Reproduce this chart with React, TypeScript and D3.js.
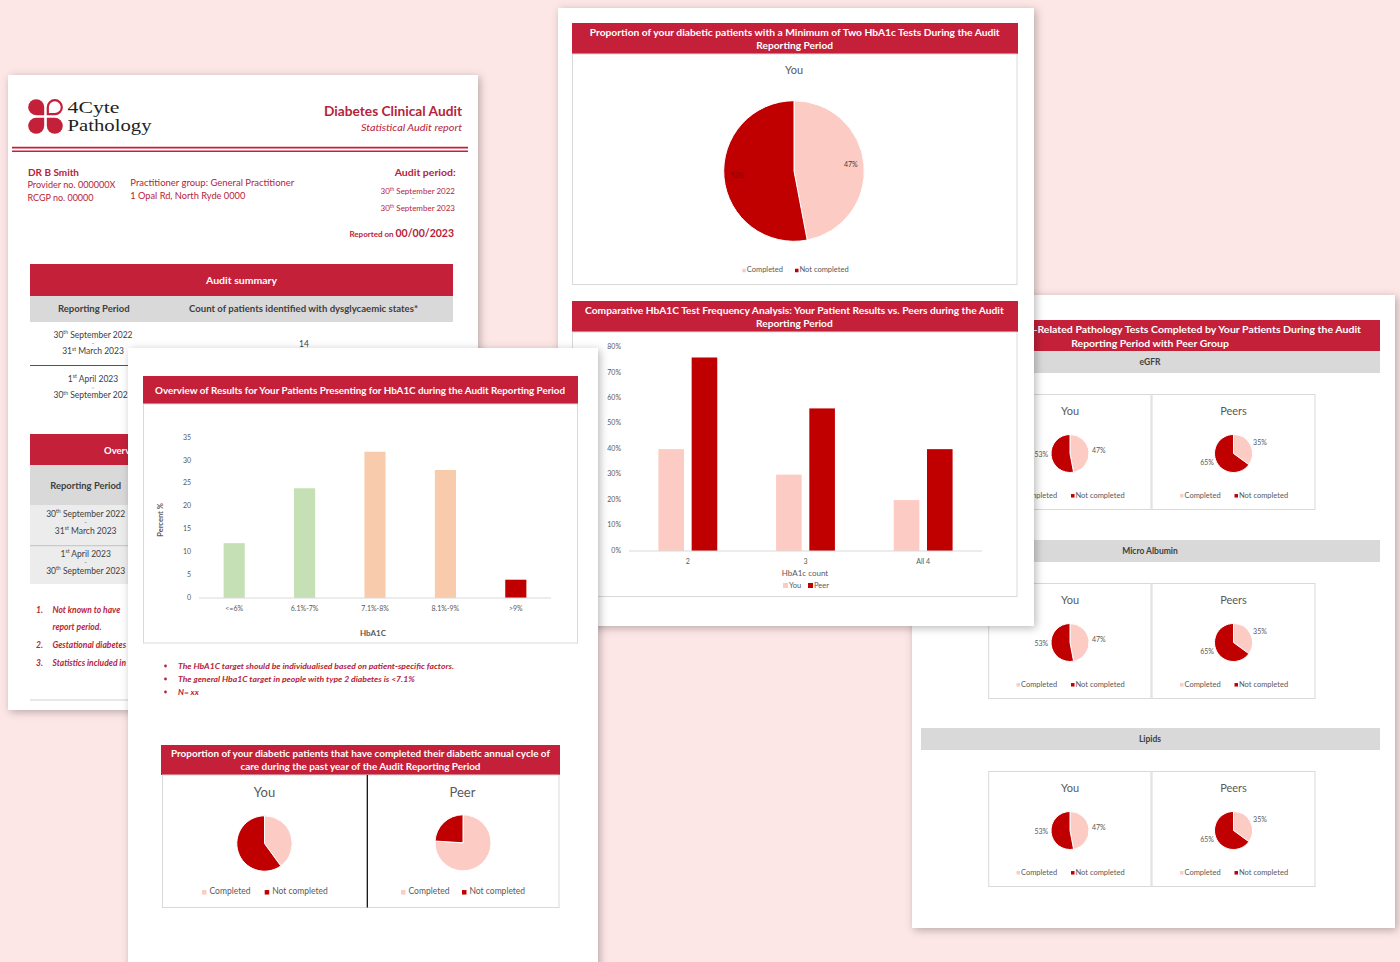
import React from "react";
import * as d3 from "d3";

const FONT = "Lato, 'Open Sans', sans-serif";
const BAND_RED = "#c4203a";
const TEXT_RED = "#b72339";
const DARK_RED = "#c00000";
const PINK = "#fccbc3";
const GREY_TXT = "#595959";
const BODY_TXT = "#404040";

// ---------- DATA ----------
const hba1cCategories = ["<=6%", "6.1%-7%", "7.1%-8%", "8.1%-9%", ">9%"];
const hba1cPercent = [12, 24, 32, 28, 4];
const hba1cTicks = [0, 5, 10, 15, 20, 25, 30, 35];
const hba1cColors = ["#c5e0b4", "#c5e0b4", "#f8cbad", "#f8cbad", "#c00000"];

const freqCategories = ["2", "3", "All 4"];
const freqSeries = ["You", "Peer"];
const freqYou = [0.4, 0.3, 0.2];
const freqPeer = [0.76, 0.56, 0.4];
const freqTicks = [0, 0.1, 0.2, 0.3, 0.4, 0.5, 0.6, 0.7, 0.8];

const pieCategories = ["Completed", "Not completed"];
const minTwoTestsYou = [47, 53];
const annualCycleYou = [40, 60];
const annualCyclePeer = [76, 24];
const egfrYou = [47, 53];
const egfrPeers = [35, 65];
const microAlbuminYou = [47, 53];
const microAlbuminPeers = [35, 65];
const lipidsYou = [47, 53];
const lipidsPeers = [35, 65];
const pathologySections = ["eGFR", "Micro Albumin", "Lipids"];

const auditPeriod = ["30th September 2022", "30th September 2023"];
const reportingPeriods = [
  ["30th September 2022", "31st March 2023"],
  ["1st April 2023", "30th September 2023"],
];
const dysglycaemicCounts = [14];
const hba1cNotes = [
  "The HbA1C target should be individualised based on patient-specific factors.",
  "The general Hba1C target in people with type 2 diabetes is <7.1%",
  "N= xx",
];
const summaryNotes = ["Not known to have", "report period.", "Gestational diabetes", "Statistics included in"];

// ---------- helpers ----------
function T(props: any) {
  const { x, y, w, size, anchor = "start", fill = BODY_TXT, weight = "normal", italic = false, children, baseline } = props;
  return (
    <text
      x={x}
      y={y}
      fontSize={size}
      textAnchor={anchor}
      fill={fill}
      fontWeight={weight}
      fontStyle={italic ? "italic" : "normal"}
      textLength={w}
      lengthAdjust={w ? "spacingAndGlyphs" : undefined}
      dominantBaseline={baseline}
    >
      {children}
    </text>
  );
}

function Ord(props: any) {
  const { x, y, text, size, anchor = "start", fill = BODY_TXT, weight = "normal" } = props;
  const m = text.match(/^(\d+)(st|nd|rd|th)(.*)$/);
  return (
    <text x={x} y={y} fontSize={size} textAnchor={anchor} fill={fill} fontWeight={weight}>
      {m ? (
        <>
          <tspan>{m[1]}</tspan>
          <tspan fontSize={size * 0.6} dy={-size * 0.38}>{m[2]}</tspan>
          <tspan dy={size * 0.38}>{m[3]}</tspan>
        </>
      ) : (
        text
      )}
    </text>
  );
}

function lobePath(ix: number, iy: number, sx: number, sy: number, s: number) {
  const h = s / 2;
  const sw = sx * sy > 0 ? 1 : 0;
  return `M${ix},${iy} L${ix + sx * h},${iy} A${h},${h} 0 0 ${sw} ${ix + sx * s},${iy + sy * h} A${h},${h} 0 0 ${sw} ${ix + sx * h},${iy + sy * s} A${h},${h} 0 0 ${sw} ${ix},${iy + sy * h} Z`;
}

function Logo() {
  const cx = 45.5, cy = 116.5, g = 1.3, s = 16;
  const serif = "'Liberation Serif', 'DejaVu Serif', serif";
  return (
    <g>
      <path d={lobePath(cx - g, cy - g, -1, -1, s)} fill={BAND_RED} />
      <path d={lobePath(cx + g + 1, cy - g - 1, 1, -1, s - 2)} fill="#fff" stroke={BAND_RED} strokeWidth={2.2} />
      <path d={lobePath(cx - g, cy + g, -1, 1, s)} fill={BAND_RED} />
      <path d={lobePath(cx + g, cy + g, 1, 1, s)} fill={BAND_RED} />
      <text x={67.5} y={112.5} fontFamily={serif} fontSize={16.5} fill="#231f20" textLength={52} lengthAdjust="spacingAndGlyphs">4Cyte</text>
      <text x={67.5} y={130.5} fontFamily={serif} fontSize={16.5} fill="#231f20" textLength={84} lengthAdjust="spacingAndGlyphs">Pathology</text>
    </g>
  );
}

function Pie(props: any) {
  const { cx, cy, r, values, labels = "none", labelR = 0, fontSize = 7 } = props;
  const arcs = d3.pie<number>().sort(null)(values);
  const arc = d3.arc<any>().innerRadius(0).outerRadius(r);
  const colors = [PINK, DARK_RED];
  return (
    <g transform={`translate(${cx},${cy})`}>
      {arcs.map((a, i) => (
        <path key={i} d={arc(a) as string} fill={colors[i]} stroke="#fff" strokeWidth={1} />
      ))}
      {labels !== "none" &&
        arcs.map((a, i) => {
          const mid = (a.startAngle + a.endAngle) / 2;
          const px = Math.sin(mid) * labelR;
          const py = -Math.cos(mid) * labelR;
          const anchor = labels === "inside" ? "middle" : px >= 0 ? "start" : "end";
          const fill = labels === "inside" ? (i === 0 ? BODY_TXT : "#8a0000") : GREY_TXT;
          return (
            <text key={"l" + i} x={px} y={py} fontSize={fontSize} textAnchor={anchor} dominantBaseline="middle" fill={fill}>
              {`${values[i]}%`}
            </text>
          );
        })}
    </g>
  );
}

function Legend(props: any) {
  const { xs, y, size, gap, fontSize, labels } = props;
  const colors = [PINK, DARK_RED];
  return (
    <g>
      {labels.map((l: string, i: number) => (
        <g key={l}>
          <rect x={xs[i]} y={y - size / 2} width={size} height={size} fill={colors[i]} />
          <text x={xs[i] + size + gap} y={y} dominantBaseline="middle" fontSize={fontSize} fill={GREY_TXT}>{l}</text>
        </g>
      ))}
    </g>
  );
}

function Dash(props: any) {
  return <line x1={props.x - 1.2} x2={props.x + 1.2} y1={props.y} y2={props.y} stroke="#9a9a9a" strokeWidth={0.6} />;
}

// ---------- Page A: summary page ----------
function PageA() {
  return (
    <g>
      <rect x={8} y={75} width={470} height={635} fill="#fff" filter="url(#sh)" />
      <Logo />
      <T x={462} y={116} anchor="end" size={14} weight="bold" fill={TEXT_RED} w={138}>Diabetes Clinical Audit</T>
      <T x={462} y={131} anchor="end" size={10} italic fill={TEXT_RED} w={101}>Statistical Audit report</T>
      <line x1={12} x2={468} y1={147.6} y2={147.6} stroke={BAND_RED} strokeWidth={1.6} />
      <line x1={12} x2={468} y1={151.2} y2={151.2} stroke={BAND_RED} strokeWidth={1.4} />

      <T x={28} y={176} size={10} weight="bold" fill={TEXT_RED} w={51}>DR B Smith</T>
      <T x={27.5} y={188} size={9} fill={TEXT_RED} w={88}>Provider no. 000000X</T>
      <T x={27.5} y={201} size={9} fill={TEXT_RED} w={66}>RCGP no. 00000</T>
      <T x={130.3} y={186} size={9} fill={TEXT_RED} w={164}>Practitioner group: General Practitioner</T>
      <T x={130.3} y={198.5} size={9} fill={TEXT_RED} w={115}>1 Opal Rd, North Ryde 0000</T>

      <T x={455.7} y={176} anchor="end" size={10} weight="bold" fill={TEXT_RED} w={61}>Audit period:</T>
      <Ord x={455} y={194} anchor="end" size={8} fill={TEXT_RED} text={auditPeriod[0]} />
      <Dash x={413} y={198.5} />
      <Ord x={455} y={211} anchor="end" size={8} fill={TEXT_RED} text={auditPeriod[1]} />
      <text x={454} y={237} textAnchor="end" fill={TEXT_RED} fontWeight="bold">
        <tspan fontSize={8}>Reported on </tspan>
        <tspan fontSize={10.5}>00/00/2023</tspan>
      </text>

      {/* Audit summary table */}
      <rect x={30} y={264} width={423} height={32} fill={BAND_RED} />
      <T x={241.5} y={284} anchor="middle" size={9.5} weight="bold" fill="#fff" w={71}>Audit summary</T>
      <rect x={30} y={296} width={423} height={26} fill="#d9d9d9" />
      <T x={93.8} y={311.7} anchor="middle" size={9} weight="bold" fill={BODY_TXT} w={71.7}>Reporting Period</T>
      <T x={303.5} y={311.7} anchor="middle" size={9} weight="bold" fill={BODY_TXT} w={229}>Count of patients identified with dysglycaemic states*</T>
      <Ord x={93} y={337.5} anchor="middle" size={8.5} text={reportingPeriods[0][0]} />
      <Dash x={93} y={343.5} />
      <Ord x={93} y={354} anchor="middle" size={8.5} text={reportingPeriods[0][1]} />
      <T x={304} y={346.5} anchor="middle" size={8.5}>{dysglycaemicCounts[0]}</T>
      <line x1={30} x2={453} y1={365.5} y2={365.5} stroke={BAND_RED} strokeWidth={1} />
      <Ord x={93} y={381.5} anchor="middle" size={8.5} text={reportingPeriods[1][0]} />
      <Dash x={93} y={388} />
      <Ord x={93} y={398} anchor="middle" size={8.5} text={reportingPeriods[1][1]} />

      {/* Overview table */}
      <rect x={30} y={434} width={423} height={31} fill={BAND_RED} />
      <T x={104} y={454} size={9.5} weight="bold" fill="#fff">Overview</T>
      <rect x={30} y={465} width={423} height={40} fill="#d9d9d9" />
      <T x={85.7} y={488.5} anchor="middle" size={9} weight="bold" fill={BODY_TXT} w={71}>Reporting Period</T>
      <rect x={30} y={505} width={423} height={79} fill="#ececec" />
      <Ord x={85.7} y={516.5} anchor="middle" size={8.5} text={reportingPeriods[0][0]} />
      <Dash x={85.7} y={522.5} />
      <Ord x={85.7} y={533.5} anchor="middle" size={8.5} text={reportingPeriods[0][1]} />
      <line x1={30} x2={453} y1={545.7} y2={545.7} stroke="#b8b8b8" strokeWidth={0.8} />
      <Ord x={85.7} y={556.5} anchor="middle" size={8.5} text={reportingPeriods[1][0]} />
      <Dash x={85.7} y={562.5} />
      <Ord x={85.7} y={573.5} anchor="middle" size={8.5} text={reportingPeriods[1][1]} />

      {/* notes */}
      <T x={36} y={612.7} size={8.5} weight="bold" italic fill={TEXT_RED}>1.</T>
      <T x={52.5} y={612.7} size={8.5} weight="bold" italic fill={TEXT_RED}>{summaryNotes[0]}</T>
      <T x={52.5} y={630} size={8.5} weight="bold" italic fill={TEXT_RED}>{summaryNotes[1]}</T>
      <T x={36} y={647.5} size={8.5} weight="bold" italic fill={TEXT_RED}>2.</T>
      <T x={52.5} y={647.5} size={8.5} weight="bold" italic fill={TEXT_RED}>{summaryNotes[2]}</T>
      <T x={36} y={665.5} size={8.5} weight="bold" italic fill={TEXT_RED}>3.</T>
      <T x={52.5} y={665.5} size={8.5} weight="bold" italic fill={TEXT_RED}>{summaryNotes[3]}</T>
      <line x1={30} x2={453} y1={700} y2={700} stroke="#d0d0d0" strokeWidth={1} />
    </g>
  );
}

// ---------- Page D: HbA1C overview + annual cycle ----------
function HbA1cChart() {
  const x = d3.scaleBand<string>().domain(hba1cCategories).range([199, 551]).paddingInner(0.7).paddingOuter(0.35);
  const y = d3.scaleLinear().domain([0, 35]).range([598, 438]);
  return (
    <g>
      {hba1cTicks.map((t) => (
        <text key={t} x={191} y={y(t)} textAnchor="end" dominantBaseline="middle" fontSize={7} fill={GREY_TXT}>{t}</text>
      ))}
      {hba1cCategories.map((c, i) => (
        <rect key={c} x={x(c)} y={y(hba1cPercent[i])} width={x.bandwidth()} height={y(0) - y(hba1cPercent[i])} fill={hba1cColors[i]} />
      ))}
      <line x1={199} x2={551} y1={y(0)} y2={y(0)} stroke="#d9d9d9" strokeWidth={1} />
      {hba1cCategories.map((c) => (
        <text key={"l" + c} x={(x(c) as number) + x.bandwidth() / 2} y={609.5} textAnchor="middle" dominantBaseline="middle" fontSize={7} fill={GREY_TXT}>{c}</text>
      ))}
      <text transform="translate(163,520) rotate(-90)" textAnchor="middle" fontSize={7.5} fontWeight="bold" fill={GREY_TXT}>Percent %</text>
      <text x={373} y={636} textAnchor="middle" fontSize={8} fontWeight="bold" fill={GREY_TXT}>HbA1C</text>
    </g>
  );
}

function PageD() {
  return (
    <g>
      <rect x={128} y={348} width={470} height={630} fill="#fff" filter="url(#sh)" />
      <rect x={143} y={376} width={435} height={28} fill={BAND_RED} />
      <T x={360} y={393.5} anchor="middle" size={9.5} weight="bold" fill="#fff" w={410}>Overview of Results for Your Patients Presenting for HbA1C during the Audit Reporting Period</T>
      <rect x={143.5} y={404} width={434} height={239} fill="none" stroke="#d9d9d9" strokeWidth={1} />
      <HbA1cChart />
      {hba1cNotes.map((n, i) => (
        <g key={i}>
          <circle cx={165.5} cy={666 + i * 13} r={1.4} fill={TEXT_RED} />
          <T x={178} y={668.5 + i * 13} size={7.5} weight="bold" italic fill={TEXT_RED} w={[276, 236.7, 20.7][i]}>{n}</T>
        </g>
      ))}

      <rect x={161} y={745} width={399} height={30} fill={BAND_RED} />
      <T x={360.5} y={757} anchor="middle" size={9.5} weight="bold" fill="#fff" w={379}>Proportion of your diabetic patients that have completed their diabetic annual cycle of</T>
      <T x={360.5} y={770} anchor="middle" size={9.5} weight="bold" fill="#fff" w={240}>care during the past year of the Audit Reporting Period</T>
      <rect x={162.5} y={775} width={396.5} height={132.5} fill="none" stroke="#d9d9d9" strokeWidth={1} />
      <line x1={367.3} x2={367.3} y1={775} y2={907.5} stroke="#000" strokeWidth={1.2} />
      <text x={264.5} y={797} textAnchor="middle" fontSize={13} fill={GREY_TXT}>You</text>
      <text x={462.5} y={797} textAnchor="middle" fontSize={13} fill={GREY_TXT}>Peer</text>
      <Pie cx={264.5} cy={843.5} r={27.7} values={annualCycleYou} />
      <Pie cx={463} cy={842.8} r={28} values={annualCyclePeer} />
      <Legend xs={[202, 264.7]} y={892.3} size={4.5} gap={3} fontSize={8.5} labels={pieCategories} />
      <Legend xs={[401, 462]} y={892.3} size={4.5} gap={3} fontSize={8.5} labels={pieCategories} />
    </g>
  );
}

// ---------- Page B: min two tests + frequency ----------
function FreqChart() {
  const x0 = d3.scaleBand<string>().domain(freqCategories).range([629, 982]).paddingInner(0.5).paddingOuter(0.25);
  const x1 = d3.scaleBand<string>().domain(freqSeries).range([0, x0.bandwidth()]).paddingInner(0.23);
  const y = d3.scaleLinear().domain([0, 0.8]).range([551, 347.3]);
  const fmt = d3.format(".0%");
  const series = [freqYou, freqPeer];
  const colors = [PINK, DARK_RED];
  return (
    <g>
      {freqTicks.map((t) => (
        <text key={t} x={621} y={y(t)} textAnchor="end" dominantBaseline="middle" fontSize={7} fill={GREY_TXT}>{fmt(t)}</text>
      ))}
      {freqCategories.map((c, i) => (
        <g key={c} transform={`translate(${x0(c)},0)`}>
          {freqSeries.map((s, j) => (
            <rect key={s} x={x1(s)} y={y(series[j][i])} width={x1.bandwidth()} height={y(0) - y(series[j][i])} fill={colors[j]} />
          ))}
        </g>
      ))}
      <line x1={629} x2={982} y1={y(0)} y2={y(0)} stroke="#d9d9d9" strokeWidth={1} />
      {freqCategories.map((c) => (
        <text key={"l" + c} x={(x0(c) as number) + x0.bandwidth() / 2} y={562.5} textAnchor="middle" dominantBaseline="middle" fontSize={7} fill={GREY_TXT}>{c}</text>
      ))}
      <text x={805} y={573.5} textAnchor="middle" dominantBaseline="middle" fontSize={8} fill={GREY_TXT}>HbA1c count</text>
      {freqSeries.map((s, j) => (
        <g key={"lg" + s}>
          <rect x={[783, 808][j]} y={583} width={5} height={5} fill={colors[j]} />
          <text x={[783, 808][j] + 6} y={585.7} dominantBaseline="middle" fontSize={7.5} fill={GREY_TXT}>{s}</text>
        </g>
      ))}
    </g>
  );
}

function PageB() {
  return (
    <g>
      <rect x={558} y={8} width={476} height={618} fill="#fff" filter="url(#sh)" />
      <rect x={572} y={23} width={446} height={31} fill={BAND_RED} />
      <T x={794.7} y={36} anchor="middle" size={9.5} weight="bold" fill="#fff" w={410}>Proportion of your diabetic patients with a Minimum of Two HbA1c Tests During the Audit</T>
      <T x={794.7} y={49} anchor="middle" size={9.5} weight="bold" fill="#fff" w={76.7}>Reporting Period</T>
      <rect x={572.5} y={54} width={444.5} height={230.5} fill="none" stroke="#d9d9d9" strokeWidth={1} />
      <text x={794} y={74} textAnchor="middle" fontSize={11} fill={GREY_TXT}>You</text>
      <Pie cx={794} cy={171} r={70.3} values={minTwoTestsYou} labels="inside" labelR={57} fontSize={7} />
      <Legend xs={[742.3, 795]} y={270.5} size={3.5} gap={1} fontSize={7.5} labels={pieCategories} />

      <rect x={572} y={301} width={446} height={31} fill={BAND_RED} />
      <T x={794.4} y={314} anchor="middle" size={9.5} weight="bold" fill="#fff" w={418.7}>Comparative HbA1C Test Frequency Analysis: Your Patient Results vs. Peers during the Audit</T>
      <T x={794.4} y={327} anchor="middle" size={9.5} weight="bold" fill="#fff" w={76.7}>Reporting Period</T>
      <rect x={572.5} y={332} width={444.5} height={264.5} fill="none" stroke="#d9d9d9" strokeWidth={1} />
      <FreqChart />
    </g>
  );
}

// ---------- Page C: pathology tests ----------
function PathologySection(props: any) {
  const { name, top, you, peers } = props;
  const boxTop = top + 43.5;
  const boxes = [
    { x: 988.7, w: 162.3, cx: 1070, title: "You", values: you },
    { x: 1152, w: 163, cx: 1233.5, title: "Peers", values: peers },
  ];
  return (
    <g>
      <rect x={921} y={top} width={459} height={22} fill="#d9d9d9" />
      <text x={1150} y={top + 11.5} textAnchor="middle" dominantBaseline="middle" fontSize={8.5} fontWeight="bold" fill={BODY_TXT}>{name}</text>
      {boxes.map((b) => (
        <g key={b.title}>
          <rect x={b.x} y={boxTop} width={b.w} height={115} fill="#fff" stroke="#d9d9d9" strokeWidth={1} />
          <text x={b.cx} y={boxTop + 20.5} textAnchor="middle" fontSize={11} fill={GREY_TXT}>{b.title}</text>
          <Pie cx={b.cx} cy={boxTop + 59} r={19} values={b.values} labels="outside" labelR={22} fontSize={7} />
          <Legend xs={[b.cx - 53.5, b.cx + 1]} y={boxTop + 101.3} size={3.5} gap={1} fontSize={7.5} labels={pieCategories} />
        </g>
      ))}
    </g>
  );
}

function PageC() {
  const sectionTops = [351, 540, 728];
  const you = [egfrYou, microAlbuminYou, lipidsYou];
  const peers = [egfrPeers, microAlbuminPeers, lipidsPeers];
  return (
    <g>
      <rect x={912} y={295} width={483} height={633} fill="#fff" filter="url(#sh)" />
      <rect x={921} y={320} width={459} height={31} fill={BAND_RED} />
      <T x={1032} y={332.5} anchor="end" size={9.5} weight="bold" fill="#fff">Proportion of Diabetes</T>
      <T x={1033.5} y={332.5} size={9.5} weight="bold" fill="#fff" w={327.5}>-Related Pathology Tests Completed by Your Patients During the Audit</T>
      <T x={1150} y={347} anchor="middle" size={9.5} weight="bold" fill="#fff" w={157.7}>Reporting Period with Peer Group</T>
      {pathologySections.map((s, i) => (
        <PathologySection key={s} name={s} top={sectionTops[i]} you={you[i]} peers={peers[i]} />
      ))}
    </g>
  );
}

export default function App() {
  return (
    <svg
      width={1400}
      height={962}
      viewBox="0 0 1400 962"
      style={{ position: "absolute", left: 0, top: 0, display: "block" }}
      fontFamily={FONT}
    >
      <defs>
        <filter id="sh" x="-10%" y="-10%" width="125%" height="125%">
          <feDropShadow dx="2" dy="2" stdDeviation="4" floodColor="#000" floodOpacity="0.28" />
        </filter>
      </defs>
      <rect x={0} y={0} width={1400} height={962} fill="#fde6e6" />
      <PageA />
      <PageC />
      <PageB />
      <PageD />
    </svg>
  );
}
